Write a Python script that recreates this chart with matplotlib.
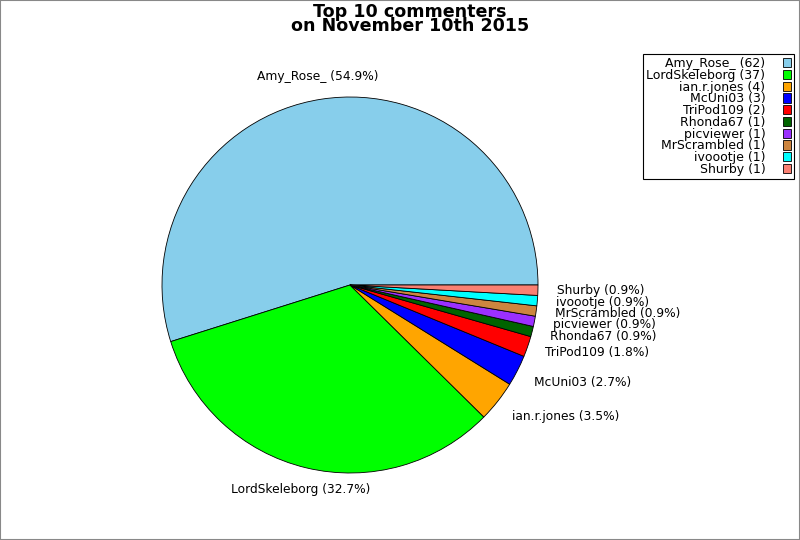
import matplotlib
matplotlib.use("Agg")
import matplotlib.pyplot as plt
from matplotlib.patches import Rectangle

names = ["Amy_Rose_", "LordSkeleborg", "ian.r.jones", "McUni03", "TriPod109",
         "Rhonda67", "picviewer", "MrScrambled", "ivoootje", "Shurby"]
counts = [62, 37, 4, 3, 2, 1, 1, 1, 1, 1]
colors = ["#87CEEB", "#00FF00", "#FFA500", "#0000FF", "#FF0000",
          "#006400", "#9B30FF", "#CD853F", "#00FFFF", "#FA8072"]
title = "Top 10 commenters\non November 10th 2015"

total = sum(counts)
pie_labels = [f"{n} ({c / total * 100:.1f}%)" for n, c in zip(names, counts)]
legend_labels = [f"{n} ({c})" for n, c in zip(names, counts)]

fig = plt.figure(figsize=(8, 5.4), dpi=100)
fig.patches.append(Rectangle((0, 0), 1, 1, transform=fig.transFigure,
                             fill=False, edgecolor="#888888", linewidth=1.5))

W, H = 800, 540
cx, cy, r = 350, 255, 188
ax = fig.add_axes([(cx - r) / W, (cy - r) / H, 2 * r / W, 2 * r / H])
wedges, texts = ax.pie(counts, labels=pie_labels, colors=colors, startangle=0,
                       counterclock=True, labeldistance=1.1,
                       wedgeprops=dict(edgecolor="black", linewidth=0.6),
                       textprops=dict(fontsize=8.8))
for t in texts:
    x, y = t.get_position()
    if abs(x) < 0.5:
        t.set_ha("center")
        t.set_position((x * 1.12 / 1.1, y * 1.12 / 1.1))
    elif y < -0.4:
        t.set_position((x, y - 0.02))
ax.set_xlim(-1, 1)
ax.set_ylim(-1, 1)
ax.set_aspect("auto")

fig.text(410 / W, 1 - 3 / H, title, ha="center", va="top",
         fontsize=12.6, fontweight="bold", linespacing=0.72)

leg = fig.legend(wedges, legend_labels, loc="upper right",
                 bbox_to_anchor=(794 / W, 1 - 54 / H), markerfirst=False,
                 fontsize=9, labelspacing=-0.1, handlelength=0.65,
                 handleheight=0.75, handletextpad=1.4, borderpad=0.25,
                 borderaxespad=0, fancybox=False, framealpha=1,
                 edgecolor="black")
leg.get_frame().set_linewidth(0.8)
for t in leg.get_texts():
    t.set_ha("right")
leg._legend_box.align = "right"

fig.savefig("out.png", dpi=100)
